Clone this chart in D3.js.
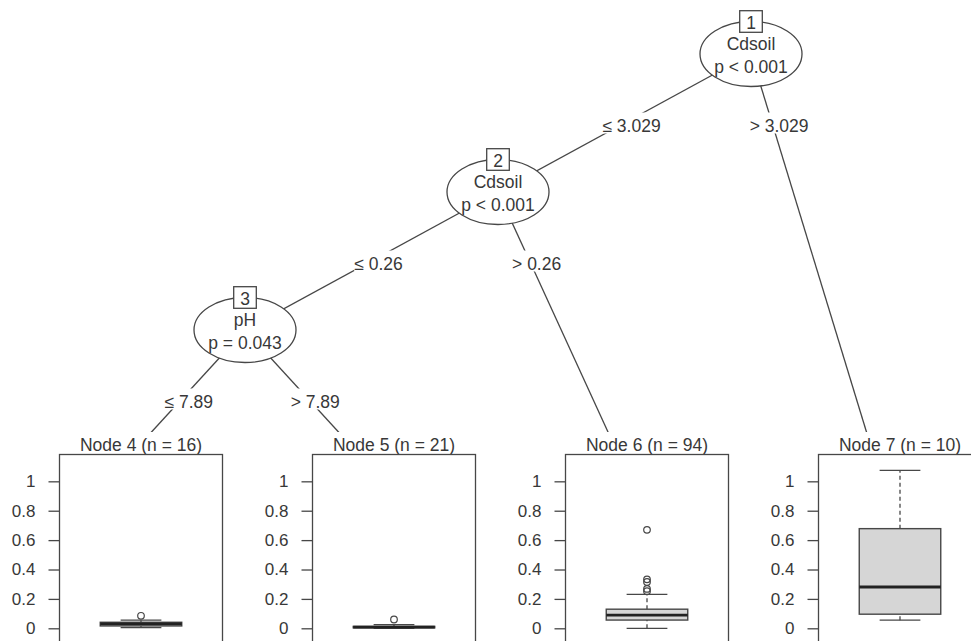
<!DOCTYPE html>
<html><head><meta charset="utf-8">
<script src="https://cdn.jsdelivr.net/npm/d3@7"></script>
<style>body{margin:0;background:#fff;overflow:hidden}</style>
</head><body><svg id="chart" width="971" height="641"></svg>
<script>
// ---------- data ----------
const innerIds   = [1, 2, 3];
const innerVars  = ["Cdsoil", "Cdsoil", "pH"];
const innerP     = ["p < 0.001", "p < 0.001", "p = 0.043"];
const edgeParent = [1, 1, 2, 2, 3, 3];
const edgeChild  = [2, 7, 3, 6, 4, 5];
const edgeLabels = ["\u2264 3.029", "> 3.029", "\u2264 0.26", "> 0.26", "\u2264 7.89", "> 7.89"];
const termIds    = [4, 5, 6, 7];
const termN      = [16, 21, 94, 10];
const boxLow     = [0.005, 0.0, 0.0, 0.055];
const boxQ1      = [0.016, 0.003, 0.056, 0.096];
const boxMed     = [0.030, 0.008, 0.089, 0.281];
const boxQ3      = [0.041, 0.013, 0.130, 0.678];
const boxHigh    = [0.055, 0.025, 0.231, 1.075];
const boxOut     = [[0.085], [0.06], [0.67, 0.333, 0.315, 0.268, 0.252], []];
const yTicks     = [0, 0.2, 0.4, 0.6, 0.8, 1];

// ---------- style ----------
const FONT = "'Liberation Sans', Arial, sans-serif";
const TXT = "#383838", LINE = "#474747";
const svg = d3.select("#chart");

// ---------- tree layout (partykit style) ----------
const kids = {};
edgeParent.forEach((p, i) => { (kids[p] = kids[p] || []).push(edgeChild[i]); });
const isTerm = id => !kids[id];
const leaves = id => isTerm(id) ? 1 : kids[id].reduce((s, k) => s + leaves(k), 0);
const pos = {}, depth = {};
function lay(id, x0, d) {
  if (isTerm(id)) { pos[id] = x0 + 0.5; return; }
  const nl = leaves(kids[id][0]);
  pos[id] = x0 + nl; depth[id] = d;
  lay(kids[id][0], x0, d + 1);
  lay(kids[id][1], x0 + nl, d + 1);
}
lay(1, 0, 0);
const nLeaves = leaves(1);
const termLevel = d3.max(innerIds, id => depth[id]) + 1;
termIds.forEach(id => depth[id] = termLevel);

const x = d3.scaleLinear().domain([0, nLeaves]).range([-8, 1004]);
const lev = d3.scaleLinear().domain([0, termLevel]).range([54, 468]);
const unit = x(1) - x(0);
const L = 22.5; // one "line"

// ---------- edges ----------
const edges = edgeParent.map((p, i) => ({p, c: edgeChild[i], label: edgeLabels[i]}));
svg.append("g").selectAll("line").data(edges).join("line")
  .attr("x1", d => x(pos[d.p])).attr("y1", d => lev(depth[d.p]))
  .attr("x2", d => x(pos[d.c])).attr("y2", d => lev(depth[d.c]))
  .attr("stroke", LINE).attr("stroke-width", 1.3);

const eg = svg.append("g").selectAll("g").data(edges).join("g")
  .attr("transform", d => {
    const x1 = x(pos[d.p]), y1 = lev(depth[d.p]), x2 = x(pos[d.c]), y2 = lev(depth[d.c]);
    const ym = (lev(depth[d.p]) + lev(depth[d.p] + 1)) / 2;
    const xm = x1 + (x2 - x1) * (ym - y1) / (y2 - y1);
    return `translate(${xm + 7},${ym})`;
  });
eg.each(function(d) {
  const g = d3.select(this);
  const t = g.append("text").text(d.label).attr("text-anchor", "middle")
    .attr("y", 8.5).attr("font-family", FONT).attr("font-size", 17.5).attr("fill", TXT);
  const w = t.node().getComputedTextLength();
  g.insert("rect", "text").attr("x", -w / 2).attr("y", -10.5).attr("width", w).attr("height", 21)
    .attr("fill", "#fff");
});

// ---------- inner nodes ----------
const ig = svg.append("g").selectAll("g").data(innerIds).join("g")
  .attr("transform", id => `translate(${x(pos[id])},${lev(depth[id])})`);
ig.append("ellipse").attr("rx", 51).attr("ry", 32.5).attr("fill", "#fff")
  .attr("stroke", LINE).attr("stroke-width", 1.3);
ig.append("text").text((id, i) => innerVars[i]).attr("y", -4);
ig.append("text").text((id, i) => innerP[i]).attr("y", 19);
ig.append("rect").attr("x", -11.3).attr("y", -32.5 - 10.8).attr("width", 22.6).attr("height", 21.6)
  .attr("fill", "#fff").attr("stroke", LINE).attr("stroke-width", 1.3);
ig.append("text").text(id => id).attr("y", -32.5 + 7);
ig.selectAll("text").attr("text-anchor", "middle").attr("font-family", FONT)
  .attr("font-size", 17.5).attr("fill", TXT);

// ---------- terminal nodes ----------
const allVals = boxLow.concat(boxHigh, boxOut.flat());
const [vmin, vmax] = d3.extent(allVals);
const pad = (vmax - vmin) * 0.1;
const panelTop = lev(termLevel) - 36;
const boxTop = panelTop + L;
const boxBottom = 644.1;
const y = d3.scaleLinear().domain([vmin - pad, vmax + pad]).range([boxBottom, boxTop]);

const tg = svg.append("g").selectAll("g").data(termIds).join("g");
tg.each(function(id, i) {
  const g = d3.select(this);
  const cx0 = x(pos[id]);
  const left = cx0 - unit / 2 + 3 * L, right = cx0 + unit / 2 - L;
  const w = right - left, cx = (left + right) / 2;
  // white background hides edges
  g.append("rect").attr("x", cx0 - unit / 2).attr("y", panelTop).attr("width", unit)
    .attr("height", 700 - panelTop).attr("fill", "#fff");
  g.append("text").text(`Node ${id} (n = ${termN[i]})`).attr("x", cx).attr("y", boxTop - 3.5)
    .attr("text-anchor", "middle").attr("font-family", FONT).attr("font-size", 17.5).attr("fill", TXT);
  // plot frame
  g.append("rect").attr("x", left).attr("y", boxTop).attr("width", w).attr("height", boxBottom - boxTop)
    .attr("fill", "none").attr("stroke", LINE).attr("stroke-width", 1.3);
  // y axis
  const ax = g.append("g").attr("transform", `translate(${left},0)`)
    .call(d3.axisLeft(y).tickValues(yTicks).tickFormat(d3.format("~g")).tickSize(11).tickPadding(13));
  ax.select(".domain").remove();
  ax.selectAll("line").attr("stroke", LINE).attr("stroke-width", 1.3);
  ax.selectAll("text").attr("font-family", FONT).attr("font-size", 17).attr("fill", TXT);
  // boxplot
  const hw = w / 4, cw = w / 8;
  g.append("line").attr("x1", cx).attr("x2", cx).attr("y1", y(boxLow[i])).attr("y2", y(boxQ1[i]))
    .attr("stroke", LINE).attr("stroke-width", 1.3).attr("stroke-dasharray", "4,3");
  g.append("line").attr("x1", cx).attr("x2", cx).attr("y1", y(boxQ3[i])).attr("y2", y(boxHigh[i]))
    .attr("stroke", LINE).attr("stroke-width", 1.3).attr("stroke-dasharray", "4,3");
  [boxLow[i], boxHigh[i]].forEach(v => g.append("line").attr("x1", cx - cw).attr("x2", cx + cw)
    .attr("y1", y(v)).attr("y2", y(v)).attr("stroke", LINE).attr("stroke-width", 1.3));
  g.append("rect").attr("x", cx - hw).attr("width", 2 * hw)
    .attr("y", y(boxQ3[i])).attr("height", y(boxQ1[i]) - y(boxQ3[i]))
    .attr("fill", "#d6d6d6").attr("stroke", LINE).attr("stroke-width", 1.4);
  g.append("line").attr("x1", cx - hw).attr("x2", cx + hw).attr("y1", y(boxMed[i])).attr("y2", y(boxMed[i]))
    .attr("stroke", "#222").attr("stroke-width", 2.8);
  g.selectAll("circle.o").data(boxOut[i]).join("circle").attr("class", "o")
    .attr("cx", cx).attr("cy", v => y(v)).attr("r", 3.3)
    .attr("fill", "none").attr("stroke", LINE).attr("stroke-width", 1.2);
});
</script></body></html>
